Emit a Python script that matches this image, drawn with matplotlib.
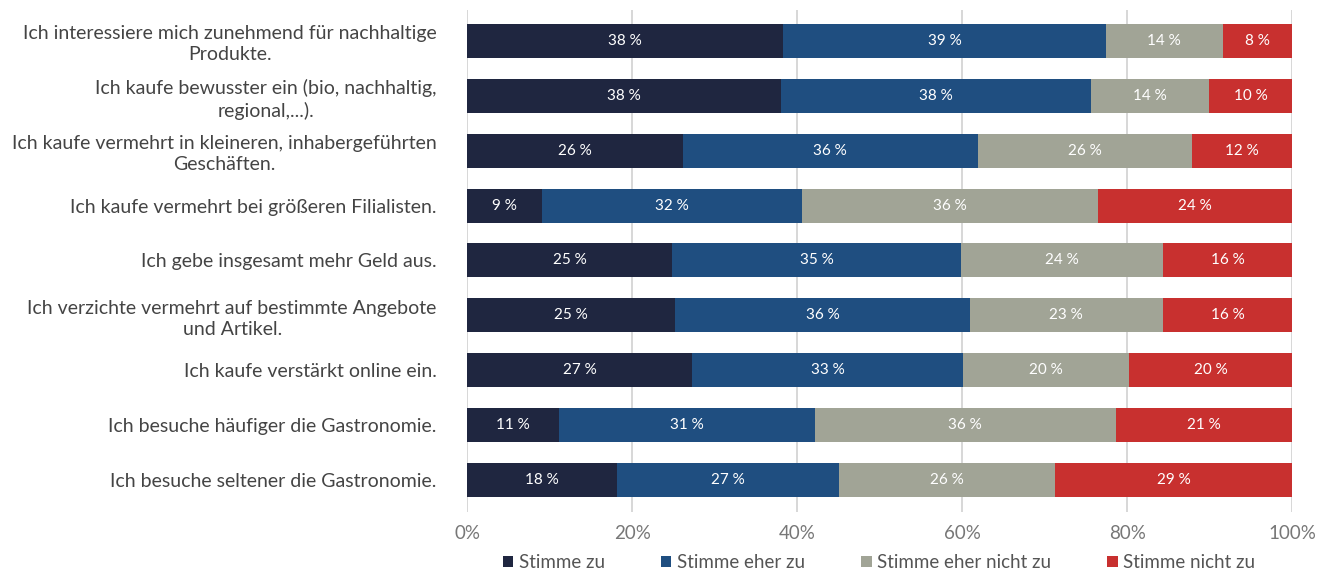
import numpy as np
import matplotlib
matplotlib.use("Agg")
import matplotlib.pyplot as plt

# Antworten je Aussage (Anteile in %)
statements = [
    "Ich interessiere mich zunehmend für nachhaltige\nProdukte.",
    "Ich kaufe bewusster ein (bio, nachhaltig,\nregional,...).",
    "Ich kaufe vermehrt in kleineren, inhabergeführten\nGeschäften.",
    "Ich kaufe vermehrt bei größeren Filialisten.",
    "Ich gebe insgesamt mehr Geld aus.",
    "Ich verzichte vermehrt auf bestimmte Angebote\nund Artikel.",
    "Ich kaufe verstärkt online ein.",
    "Ich besuche häufiger die Gastronomie.",
    "Ich besuche seltener die Gastronomie.",
]
stimme_zu = [38.3, 38.0, 26.1, 9.0, 24.8, 25.2, 27.2, 11.1, 18.1]
eher_zu = [39.1, 37.6, 35.8, 31.6, 35.1, 35.7, 32.9, 31.0, 27.0]
eher_nicht = [14.2, 14.3, 26.0, 35.8, 24.4, 23.4, 20.1, 36.5, 26.1]
nicht_zu = [8.4, 10.1, 12.1, 23.6, 15.7, 15.7, 19.8, 21.4, 28.8]

series = ["Stimme zu", "Stimme eher zu", "Stimme eher nicht zu", "Stimme nicht zu"]
colors = ["#1f2640", "#1f4e80", "#a1a496", "#c8302f"]

plt.rcParams["font.family"] = ["Lato", "DejaVu Sans"]

fig = plt.figure(figsize=(13.24, 5.74), dpi=100)
ax = fig.add_axes([0.353, 0.108, 0.623, 0.875])

y = np.arange(len(statements))
left = np.zeros(len(statements))
for name, vals, col in zip(series, [stimme_zu, eher_zu, eher_nicht, nicht_zu], colors):
    vals = np.array(vals)
    bars = ax.barh(y, vals / 100, left=left / 100, height=0.62, color=col,
                   label=name, zorder=3)
    for b, v in zip(bars, vals):
        ax.text(b.get_x() + b.get_width() / 2, b.get_y() + b.get_height() / 2,
                f"{v:.0f} %", ha="center", va="center", color="white",
                fontsize=11, zorder=4)
    left += vals

ax.set_xlim(0, 1)
ax.set_ylim(8.58, -0.565)
ax.set_xticks(np.linspace(0, 1, 6))
ax.set_xticklabels([f"{int(t)}%" for t in np.linspace(0, 100, 6)],
                   color="#777777", fontsize=13.5)
ax.tick_params(axis="x", length=0, pad=9)
ax.set_yticks(y)
ax.set_yticklabels(statements, fontsize=14, color="#444444",
                   multialignment="center", linespacing=1.3)
ax.tick_params(axis="y", length=0, pad=22)
ax.grid(axis="x", color="#d4d4d4", linewidth=1.3, zorder=0)
for s in ax.spines.values():
    s.set_visible(False)

fig.legend(loc="lower center", bbox_to_anchor=(0.664, -0.025), ncol=4,
           frameon=False, fontsize=13.5, handlelength=0.55, handleheight=0.55,
           handletextpad=0.3, columnspacing=3.0, labelcolor="#555555")

fig.savefig("out.png", dpi=100)
